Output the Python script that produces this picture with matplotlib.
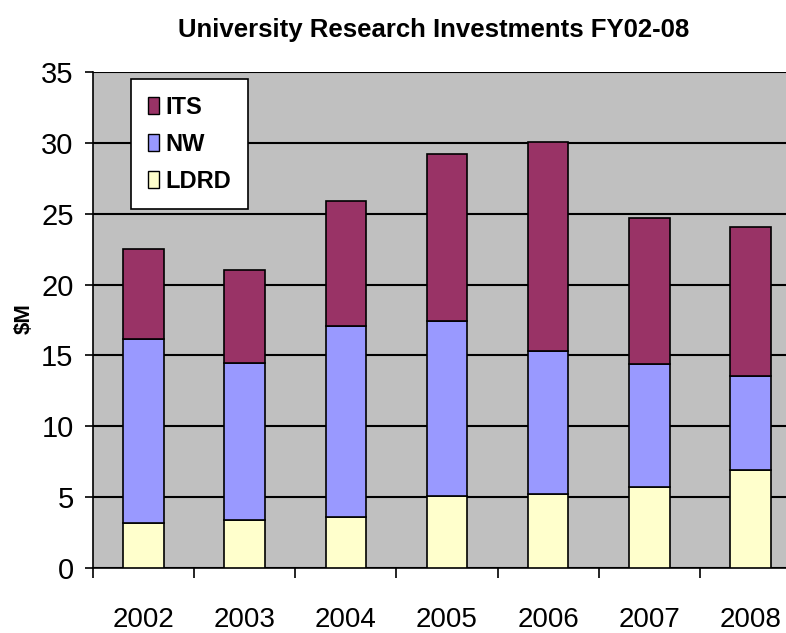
import numpy as np
import matplotlib.pyplot as plt
from matplotlib.patches import Patch

# data ($M)
years = ['2002', '2003', '2004', '2005', '2006', '2007', '2008']
ldrd = [3.17, 3.40, 3.63, 5.09, 5.23, 5.73, 6.92]
nw = [12.96, 11.04, 13.45, 12.35, 10.05, 8.68, 6.64]
its = [6.36, 6.57, 8.81, 11.76, 14.76, 10.26, 10.50]

COL_ITS = '#993366'
COL_NW = '#9999FF'
COL_LDRD = '#FFFFCC'

plt.rcParams['font.family'] = ['Liberation Sans', 'DejaVu Sans']

fig = plt.figure(figsize=(7.86, 6.33), dpi=100)
ax = fig.add_axes([93 / 786, 65 / 633, 708 / 786, 496 / 633])
ax.set_facecolor('#C0C0C0')

x = np.arange(len(years))
w = 0.4
ldrd_a = np.array(ldrd)
nw_a = np.array(nw)
its_a = np.array(its)
ax.bar(x, ldrd_a, w, color=COL_LDRD, edgecolor='black', linewidth=1.2, zorder=3)
ax.bar(x, nw_a, w, bottom=ldrd_a, color=COL_NW, edgecolor='black', linewidth=1.2, zorder=3)
ax.bar(x, its_a, w, bottom=ldrd_a + nw_a, color=COL_ITS, edgecolor='black', linewidth=1.2, zorder=3)

ax.set_xlim(-0.5, 6.5)
ax.set_ylim(0, 35)
ax.set_yticks(range(0, 36, 5))
ax.yaxis.grid(True, color='black', linewidth=1.5, zorder=0)
ax.set_axisbelow(True)

for s in ['top', 'right']:
    ax.spines[s].set_visible(False)
ax.spines['left'].set_linewidth(1.2)
ax.spines['bottom'].set_linewidth(1.2)

ax.set_xticks(x)
ax.set_xticklabels(years)
ax.set_xticks(np.arange(-0.5, 6.5, 1.0), minor=True)
ax.tick_params(axis='x', which='major', length=0, pad=28, labelsize=20)
ax.tick_params(axis='x', which='minor', length=7, width=1.2, direction='out')
ax.tick_params(axis='y', length=6, width=1.2, pad=8, labelsize=21)

# title centred on the visible part of the plot area
fig.text(434 / 786, 1 - 30 / 633, 'University Research Investments FY02-08',
         fontsize=18.5, fontweight='bold', ha='center', va='center')
fig.text(24 / 786, 1 - 319 / 633, '$M', rotation=90, fontsize=16,
         fontweight='bold', ha='center', va='center')

handles = [Patch(facecolor=COL_ITS, edgecolor='black', label='ITS'),
           Patch(facecolor=COL_NW, edgecolor='black', label='NW'),
           Patch(facecolor=COL_LDRD, edgecolor='black', label='LDRD')]
leg = ax.legend(handles=handles, loc='upper left',
                bbox_to_anchor=(131 / 786, 1 - 79 / 633),
                bbox_transform=fig.transFigure,
                prop={'weight': 'bold', 'size': 17},
                handlelength=0.47, handleheight=0.72, handletextpad=0.3,
                labelspacing=0.6, borderpad=0.7, borderaxespad=0,
                fancybox=False, framealpha=1, edgecolor='black')
leg.get_frame().set_linewidth(1.2)

fig.savefig('out.png', dpi=100)
